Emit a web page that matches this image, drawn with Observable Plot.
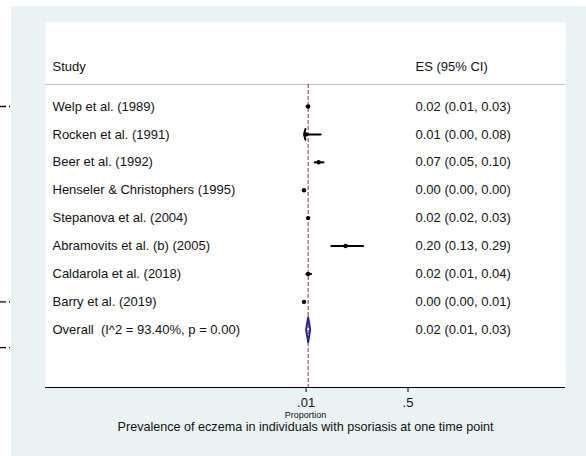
<!DOCTYPE html>
<html>
<head>
<meta charset="utf-8">
<script src="https://cdn.jsdelivr.net/npm/d3@7"></script>
<script src="https://cdn.jsdelivr.net/npm/@observablehq/plot@0.6"></script>
<style>
  html, body { margin: 0; padding: 0; background: #ffffff; }
  #chart svg { display: block; }
</style>
</head>
<body>
<div id="chart"></div>
<script>
// ---- data ----
const studies = [
  "Welp et al. (1989)",
  "Rocken et al. (1991)",
  "Beer et al. (1992)",
  "Henseler & Christophers (1995)",
  "Stepanova et al. (2004)",
  "Abramovits et al. (b) (2005)",
  "Caldarola et al. (2018)",
  "Barry et al. (2019)"
];
const es = [0.02, 0.01, 0.07, 0.00, 0.02, 0.20, 0.02, 0.00];
const lo = [0.01, 0.00, 0.05, 0.00, 0.02, 0.13, 0.01, 0.00];
const hi = [0.03, 0.08, 0.10, 0.00, 0.03, 0.29, 0.04, 0.01];
const esLabels = [
  "0.02 (0.01, 0.03)",
  "0.01 (0.00, 0.08)",
  "0.07 (0.05, 0.10)",
  "0.00 (0.00, 0.00)",
  "0.02 (0.02, 0.03)",
  "0.20 (0.13, 0.29)",
  "0.02 (0.01, 0.04)",
  "0.00 (0.00, 0.01)"
];
const arrowStudies = ["Rocken et al. (1991)"];
const overallLabel = "Overall  (I^2 = 93.40%, p = 0.00)";
const overallES = 0.02, overallLo = 0.01, overallHi = 0.03;
const overallESLabel = "0.02 (0.01, 0.03)";
const xTicks = [0.01, 0.5];
const xTickLabels = [".01", ".5"];
const headers = ["Study", "ES (95% CI)"];
const axisTitle = "Proportion";
const title = "Prevalence of eczema in individuals with psoriasis at one time point";

// ---- layout (in scale units) ----
const W = 586, H = 456;
const mL = 45, mR = 21, mT = 22, mB = 69;
const x0px = 303.5, pxPerUnit = 208;
const xMin = (mL - x0px) / pxPerUnit, xMax = (W - mR - x0px) / pxPerUnit;
const rowTop = -2.01, rowBottom = 11.07;
const headerRow = -0.43, headerLineRow = 0.21;
const pxToX = px => (px - x0px) / pxPerUnit;

const rows = studies.map((s, i) => ({
  study: s, es: es[i], lo: lo[i], hi: hi[i], label: esLabels[i], row: i + 1,
  arrow: arrowStudies.includes(s)
}));
const overallRow = studies.length + 1;
const dh = 0.45;
const diamond = [
  {x: overallLo, y: overallRow},
  {x: overallES, y: overallRow - dh},
  {x: overallHi, y: overallRow},
  {x: overallES, y: overallRow + dh},
  {x: overallLo, y: overallRow}
];
const sideRows = [1, 8, 9.64];

const font = "'Liberation Sans', Arial, Helvetica, sans-serif";
const txt = "#111";
const navy = "#23238c";
const maroon = "#8b2c2c";

const chart = Plot.plot({
  width: W, height: H,
  marginLeft: mL, marginRight: mR, marginTop: mT, marginBottom: mB,
  x: {domain: [xMin, xMax], axis: null},
  y: {domain: [rowTop, rowBottom], reverse: true, axis: null},
  style: {
    fontFamily: font,
    background: "linear-gradient(#eaf2f3,#eaf2f3) 11px 6px / 575px 450px no-repeat, #ffffff",
    overflow: "visible"
  },
  marks: [
    Plot.frame({fill: "white", stroke: null}),
    Plot.ruleY([headerLineRow], {stroke: "#bdbdbd", strokeWidth: 1}),
    Plot.ruleX([overallES], {y1: headerLineRow, y2: rowBottom, stroke: maroon, strokeWidth: 1, strokeDasharray: "4,2"}),
    // confidence intervals
    Plot.ruleY(rows.filter(d => !d.arrow), {x1: "lo", x2: "hi", y: "row", stroke: "black", strokeWidth: 2}),
    Plot.arrow(rows.filter(d => d.arrow), {x1: "hi", y1: "row", x2: "lo", y2: "row", stroke: "black", strokeWidth: 2, headAngle: 150, headLength: 8}),
    Plot.dot(rows, {x: "es", y: "row", r: 2.2, fill: "black", stroke: null}),
    // overall diamond
    Plot.line(diamond, {x: "x", y: "y", stroke: navy, strokeWidth: 1.9}),
    // text columns
    Plot.text(headers.slice(0, 1), {frameAnchor: "left", y: [headerRow], text: d => d, textAnchor: "start", dx: 7, fontSize: 13, fill: txt}),
    Plot.text(headers.slice(1), {frameAnchor: "left", y: [headerRow], text: d => d, textAnchor: "start", dx: 370, fontSize: 13, fill: txt}),
    Plot.text(rows, {frameAnchor: "left", y: "row", text: "study", textAnchor: "start", dx: 7, fontSize: 13, fill: txt}),
    Plot.text(rows, {frameAnchor: "left", y: "row", text: "label", textAnchor: "start", dx: 370, fontSize: 13, fill: txt}),
    Plot.text([overallLabel], {frameAnchor: "left", y: [overallRow], text: d => d, textAnchor: "start", dx: 7, fontSize: 13, fill: txt}),
    Plot.text([overallESLabel], {frameAnchor: "left", y: [overallRow], text: d => d, textAnchor: "start", dx: 370, fontSize: 13, fill: txt}),
    // axis
    Plot.ruleY([rowBottom], {stroke: "black", strokeWidth: 1.2}),
    Plot.axisX(xTicks, {tickFormat: d => xTickLabels[xTicks.indexOf(d)], tickSize: 5, tickPadding: 5, fontSize: 13, label: null, stroke: "black", color: txt}),
    Plot.text([axisTitle], {frameAnchor: "bottom", lineAnchor: "middle", text: d => d, dy: 28, fontSize: 9, fill: txt}),
    Plot.text([title], {frameAnchor: "bottom", lineAnchor: "middle", text: d => d, dy: 39, fontSize: 12.6, fill: txt}),
    // side dash marks (neighbouring panel remnants)
    Plot.ruleY(sideRows, {x1: pxToX(0), x2: pxToX(10), stroke: "black", strokeWidth: 1.3, strokeDasharray: "6,3"})
  ]
});
document.getElementById("chart").appendChild(chart);
</script>
</body>
</html>
